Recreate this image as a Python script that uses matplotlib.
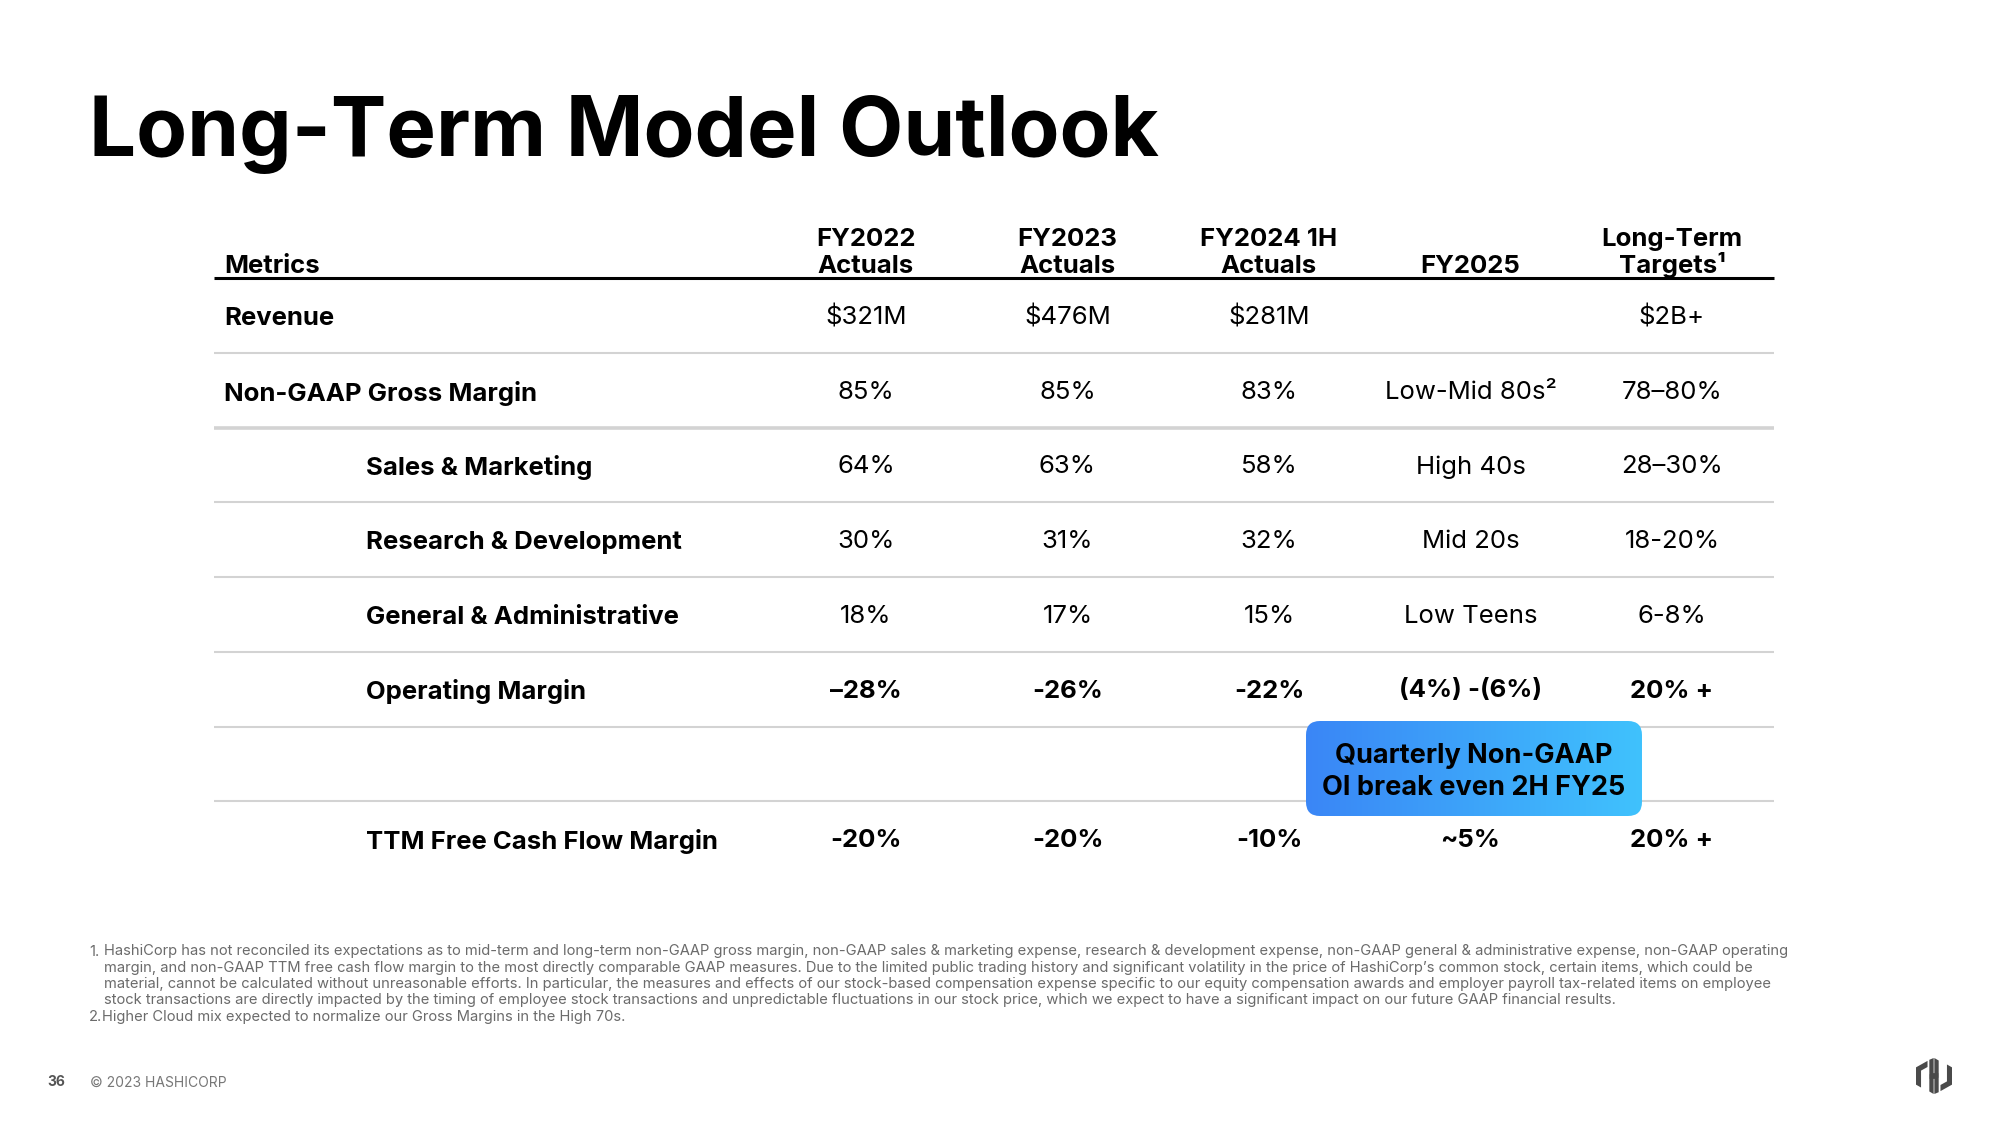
import matplotlib.pyplot as plt
import numpy as np
from matplotlib.patches import FancyBboxPatch, Polygon
from matplotlib.colors import LinearSegmentedColormap

plt.rcParams["font.family"] = ["Inter", "DejaVu Sans"]

title = "Long-Term Model Outlook"
header_label = "Metrics"
columns = ["FY2022\nActuals", "FY2023\nActuals", "FY2024 1H\nActuals", "FY2025", "Long-Term\nTargets¹"]
metrics = ["Revenue", "Non-GAAP Gross Margin", "Sales & Marketing", "Research & Development",
           "General & Administrative", "Operating Margin", "", "TTM Free Cash Flow Margin"]
indented = [False, False, True, True, True, True, True, True]
bold_values = [False, False, False, False, False, True, False, True]
fy2022 = ["$321M", "85%", "64%", "30%", "18%", "\u201328%", "", "-20%"]
fy2023 = ["$476M", "85%", "63%", "31%", "17%", "-26%", "", "-20%"]
fy2024_1h = ["$281M", "83%", "58%", "32%", "15%", "-22%", "", "-10%"]
fy2025 = ["", "Low-Mid 80s\u00b2", "High 40s", "Mid 20s", "Low Teens", "(4%) -(6%)", "", "~5%"]
long_term = ["$2B+", "78\u201380%", "28\u201330%", "18-20%", "6-8%", "20% +", "", "20% +"]
callout = ["Quarterly Non-GAAP", "OI break even 2H FY25"]
footnotes = [
    ("1.", "HashiCorp has not reconciled its expectations as to mid-term and long-term non-GAAP gross margin, non-GAAP sales & marketing expense, research & development expense, non-GAAP general & administrative expense, non-GAAP operating"),
    ("", "margin, and non-GAAP TTM free cash flow margin to the most directly comparable GAAP measures. Due to the limited public trading history and significant volatility in the price of HashiCorp\u2019s common stock, certain items, which could be"),
    ("", "material, cannot be calculated without unreasonable efforts. In particular, the measures and effects of our stock-based compensation expense specific to our equity compensation awards and employer payroll tax-related items on employee"),
    ("", "stock transactions are directly impacted by the timing of employee stock transactions and unpredictable fluctuations in our stock price, which we expect to have a significant impact on our future GAAP financial results."),
    ("2.", "Higher Cloud mix expected to normalize our Gross Margins in the High 70s."),
]
page_number = "36"
copyright_text = "\u00a9 2023 HASHICORP"

value_columns = [fy2022, fy2023, fy2024_1h, fy2025, long_term]

fig = plt.figure(figsize=(20, 11.25), dpi=100)
ax = fig.add_axes([0, 0, 1, 1])
ax.set_xlim(0, 2000)
ax.set_ylim(1125, 0)
ax.axis("off")

# title
ax.text(89, 156, title, fontsize=60, fontweight="bold", color="black", va="baseline", ha="left")

# table geometry
table_left, table_right = 214, 1774
header_line_y = 278
row_h = 74.7
col_x = [866 + 201.5 * i for i in range(len(columns))]
row_y = [header_line_y + 38 + row_h * i for i in range(len(metrics))]
fs = 18.5

# header
ax.text(224, 273, header_label, fontsize=fs, fontweight="bold", va="baseline", ha="left")
for x, label in zip(col_x, columns):
    lines = label.split("\n")
    for k, line in enumerate(reversed(lines)):
        ax.text(x, 273 - 27 * k, line, fontsize=fs, fontweight="bold", va="baseline", ha="center")
ax.hlines(header_line_y, table_left, table_right, color="black", lw=2.2)

# separators
for i in range(len(metrics) - 1):
    ax.hlines(row_y[i] + 37, table_left, table_right, color="#d3d3d3",
              lw=2.6 if i == 1 else 1.5)

# rows
for i, name in enumerate(metrics):
    ax.text(366 if indented[i] else 224, row_y[i], name, fontsize=fs, fontweight="bold",
            va="center_baseline", ha="left")
    for x, vals in zip(col_x, value_columns):
        ax.text(x, row_y[i] - 1, vals[i], fontsize=fs, fontweight="bold" if bold_values[i] else "normal",
                va="center_baseline", ha="center")

# callout badge with gradient
bx0, by0, bx1, by1 = 1306, 721, 1642, 816
badge = FancyBboxPatch((bx0, by0), bx1 - bx0, by1 - by0,
                       boxstyle="round,pad=0,rounding_size=14", fc="none", ec="none")
ax.add_patch(badge)
cmap = LinearSegmentedColormap.from_list("badge", ["#3a86f6", "#40c2fd"])
grad = np.linspace(0, 1, 256).reshape(1, -1)
im = ax.imshow(grad, cmap=cmap, extent=(bx0, bx1, by1, by0), aspect="auto", zorder=3)
im.set_clip_path(badge)
ax.set_xlim(0, 2000)
ax.set_ylim(1125, 0)
ax.text((bx0 + bx1) / 2, 753, callout[0], fontsize=19.5, fontweight="bold", va="center_baseline",
        ha="center", zorder=4)
ax.text((bx0 + bx1) / 2, 785, callout[1], fontsize=19.5, fontweight="bold", va="center_baseline",
        ha="center", zorder=4)

# footnotes
for k, (num, line) in enumerate(footnotes):
    y = 950 + 16.3 * k
    if num:
        ax.text(89, y, num, fontsize=10.6, color="#6b6b6b", va="center_baseline", ha="left")
    ax.text(104 if k < 4 else 102, y, line, fontsize=10.6, color="#6b6b6b", va="center_baseline", ha="left")

# footer
ax.text(47, 1081, page_number, fontsize=10, fontweight="bold", color="#555555", va="center_baseline", ha="left")
ax.text(90, 1081, copyright_text, fontsize=10, color="#777777", va="center_baseline", ha="left")

# logo
lx, ly, s = 1916, 1058, 36
left_bracket = np.array([(0.0, 0.26), (0.32, 0.08), (0.32, 0.25), (0.14, 0.35), (0.14, 0.82), (0.0, 0.74)])
stem = np.array([(0.37, 0.05), (0.49, 0.0), (0.49, 0.42), (0.62, 0.42), (0.62, 0.55), (0.49, 0.55),
                 (0.49, 1.0), (0.37, 0.93)])
for shape in (left_bracket, stem):
    for pts in (shape, 1 - shape):
        ax.add_patch(Polygon(np.column_stack([lx + pts[:, 0] * s, ly + pts[:, 1] * s]),
                             closed=True, fc="#4a4a4a", ec="none"))

fig.savefig("out.png", dpi=100)
